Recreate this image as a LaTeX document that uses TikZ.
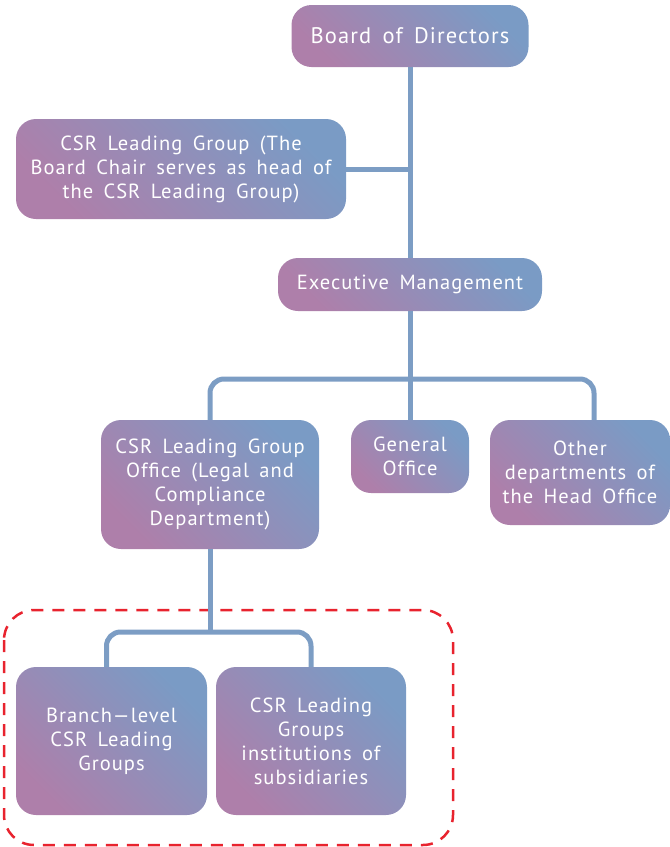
\documentclass[tikz,border=0pt]{standalone}
\usepackage{fontspec}
\setmainfont{PT Sans}[WordSpace=1.6,LetterSpace=5]
\definecolor{plum}{HTML}{AE7FAA}
\definecolor{steel}{HTML}{7A9BC5}
\definecolor{linkc}{HTML}{7C9DC4}
\definecolor{dashred}{HTML}{E8232E}
\begin{document}
\begin{tikzpicture}[x=1pt,y=-1pt,
	box/.style={rounded corners=20pt, inner sep=0pt, align=center, text=white,
		top color=steel, bottom color=plum, shading angle=-45,
		font=\fontsize{20.5}{24}\selectfont},
	link/.style={draw=linkc, line width=5pt, rounded corners=14pt}]
	\useasboundingbox (0,0) rectangle (670,847);
	%group of branches and subsidiaries
	\draw[dashred, line width=2.5pt, dash pattern=on 12pt off 9pt, rounded corners=30pt]
	(4,610) rectangle (453,845);
	\node[box, minimum width=237, minimum height=62, font=\fontsize{22.5}{26}\selectfont] (board) at (410,36) {Board of Directors};
	\node[box, minimum width=330, minimum height=100] (csrlg) at (181,169)
	{CSR Leading Group (The\\Board Chair serves as head of\\the CSR Leading Group)};
	\node[box, minimum width=264, minimum height=53] (exec) at (410,284.5) {Executive Management};
	\node[box, minimum width=218, minimum height=129] (office) at (210,484.5)
	{CSR Leading Group\\Office (Legal and\\Compliance\\Department)};
	\node[box, minimum width=118, minimum height=73] (general) at (410,456.5) {General\\Office};
	\node[box, minimum width=180, minimum height=105] (other) at (580,472.5)
	{Other\\departments of\\the Head Office};
	\node[box, minimum width=191, minimum height=148] (branch) at (111.5,741)
	{Branch—level\\CSR Leading\\Groups};
	\node[box, minimum width=190, minimum height=148] (subs) at (311,741)
	{CSR Leading\\Groups\\institutions of\\subsidiaries};
	%connectors
	\coordinate (bus) at (410,379);
	\coordinate (fork) at (210,632);
	\draw[link] (board) -- (exec);
	\draw[link] (csrlg.east) -- (csrlg.east -| board.south);
	\draw[link] (exec) -- (general);
	\draw[link] (office.north) |- (bus) -| ([xshift=14pt]other.north);
	\draw[link] (office) -- (fork);
	\draw[link] ([xshift=-5pt]branch.north) |- (fork) -| (subs.north);
\end{tikzpicture}
\end{document}
